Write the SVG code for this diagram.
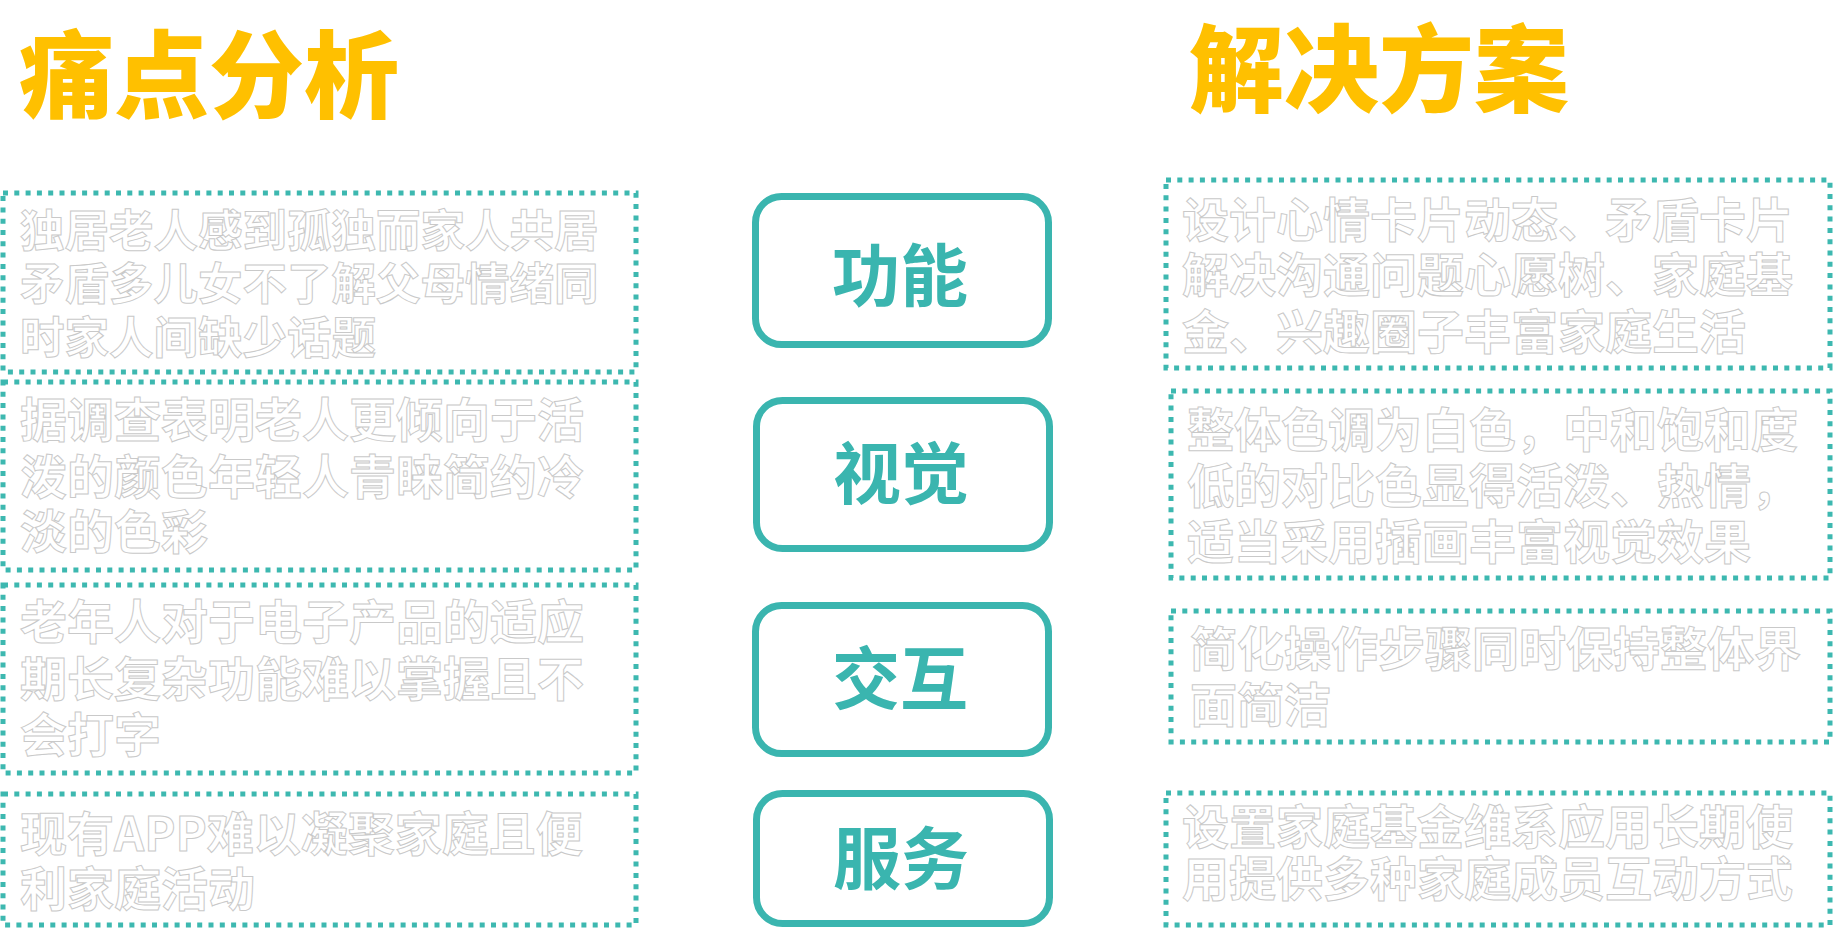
<svg xmlns="http://www.w3.org/2000/svg" width="1833" height="930" viewBox="0 0 1833 930">
<style>
.title{font-family:"Noto Sans CJK SC","Noto Sans",sans-serif;font-weight:900;font-size:95px;fill:#FFC000}
.box{fill:none;stroke:#3DB8B0;stroke-width:5;stroke-dasharray:5 6.3}
.btn{fill:#fff;stroke:#3AB5AF;stroke-width:7}
.btxt{font-family:"Noto Sans CJK SC","Noto Sans",sans-serif;font-weight:700;font-size:68px;fill:#3AB5AF;text-anchor:middle}
.t{font-family:"Noto Sans CJK SC","Noto Sans",sans-serif;font-weight:700;font-size:47px;fill:#fff;stroke:#c9c9c9;stroke-width:1}
.t1{font-size:44.5px}
</style>
<rect width="1833" height="930" fill="#fff"/>
<g id="title-left"><text class="title" x="19" y="111">痛点分析</text></g>
<g id="title-right"><text class="title" x="1189" y="105">解决方案</text></g>

<g id="pain1">
<rect class="box" x="3" y="193" width="633" height="179"/>
<text class="t t1" x="20" y="247">独居老人感到孤独而家人共居</text>
<text class="t t1" x="20" y="300">矛盾多儿女不了解父母情绪同</text>
<text class="t t1" x="20" y="354">时家人间缺少话题</text>
</g>
<g id="pain2">
<rect class="box" x="3" y="382" width="633" height="188"/>
<text class="t" x="20" y="437">据调查表明老人更倾向于活</text>
<text class="t" x="20" y="494">泼的颜色年轻人青睐简约冷</text>
<text class="t" x="20" y="549">淡的色彩</text>
</g>
<g id="pain3">
<rect class="box" x="3" y="585" width="633" height="188"/>
<text class="t" x="20" y="639">老年人对于电子产品的适应</text>
<text class="t" x="20" y="696">期长复杂功能难以掌握且不</text>
<text class="t" x="20" y="752">会打字</text>
</g>
<g id="pain4">
<rect class="box" x="3" y="794" width="633" height="131"/>
<text class="t" x="20" y="851">现有APP难以凝聚家庭且便</text>
<text class="t" x="20" y="906">利家庭活动</text>
</g>

<g id="btn-function">
<rect class="btn" x="755.5" y="196.5" width="293" height="148" rx="26"/>
<text class="btxt" x="900" y="301">功能</text>
</g>
<g id="btn-visual">
<rect class="btn" x="756.5" y="400.5" width="293" height="148" rx="26"/>
<text class="btxt" x="901" y="499">视觉</text>
</g>
<g id="btn-interaction">
<rect class="btn" x="755.5" y="605.5" width="293" height="148" rx="26"/>
<text class="btxt" x="900" y="704">交互</text>
</g>
<g id="btn-service">
<rect class="btn" x="756.5" y="793.5" width="293" height="130" rx="26"/>
<text class="btxt" x="901" y="884">服务</text>
</g>

<g id="sol1">
<rect class="box" x="1166" y="180" width="664" height="188"/>
<text class="t" x="1182" y="237">设计心情卡片动态、矛盾卡片</text>
<text class="t" x="1182" y="292">解决沟通问题心愿树、家庭基</text>
<text class="t" x="1182" y="349">金、兴趣圈子丰富家庭生活</text>
</g>
<g id="sol2">
<rect class="box" x="1171" y="391" width="659" height="187"/>
<text class="t" x="1187" y="447">整体色调为白色，中和饱和度</text>
<text class="t" x="1187" y="503">低的对比色显得活泼、热情，</text>
<text class="t" x="1187" y="559">适当采用插画丰富视觉效果</text>
</g>
<g id="sol3">
<rect class="box" x="1171" y="611" width="659" height="131"/>
<text class="t" x="1190" y="666">简化操作步骤同时保持整体界</text>
<text class="t" x="1190" y="722">面简洁</text>
</g>
<g id="sol4">
<rect class="box" x="1166" y="793" width="664" height="132"/>
<text class="t" x="1182" y="844">设置家庭基金维系应用长期使</text>
<text class="t" x="1182" y="896">用提供多种家庭成员互动方式</text>
</g>
<g id="connectors"></g>
</svg>
